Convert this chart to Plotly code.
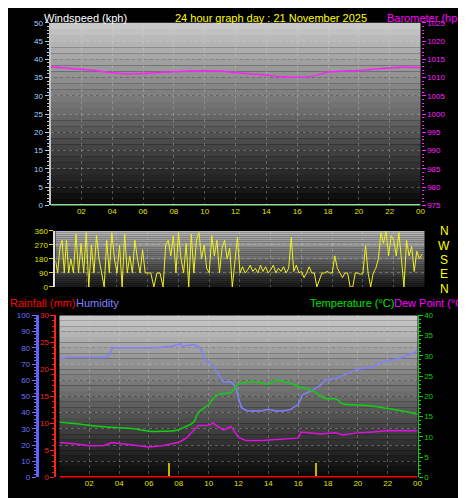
import plotly.graph_objects as go

# ── Data ─────────────────────────────────────────────────────────────────────
HOUR_TICKS = [2, 4, 6, 8, 10, 12, 14, 16, 18, 20, 22, 24]
HOUR_TEXT = ["02", "04", "06", "08", "10", "12", "14", "16", "18", "20", "22", "00"]

wind_hours = [0, 6, 12, 18, 24]
wind_speed = [0, 0, 0, 0, 0]

baro_hours = [0, 1, 2, 3, 4, 5, 6, 7, 8, 9, 10, 11, 12, 13, 14, 15, 16, 17, 18, 19, 20, 21, 22, 23, 24]
baro_hpa = [1012.9, 1012.6, 1012.3, 1011.9, 1011.3, 1011.0, 1011.1, 1011.4, 1011.6, 1011.8,
            1011.9, 1011.8, 1011.3, 1011.0, 1010.7, 1010.2, 1010.1, 1010.4, 1011.5, 1011.8,
            1011.9, 1012.3, 1012.6, 1012.8, 1012.7]

# wind direction samples, grouped per hour
dir_by_hour = [
    [170, 90, 250, 300, 90, 300, 90],
    [180, 90, 340, 90, 280, 90],
    [350, 0, 270, 90, 330, 180],
    [90, 0, 300, 90, 350, 180],
    [90, 270, 0, 340, 90, 200],
    [90, 300, 180, 90, 240, 90],
    [90, 90, 0, 90, 90],
    [0, 270, 300, 200, 330, 90],
    [350, 180, 90, 280, 0, 340],
    [90, 300, 350, 180, 270, 120],
    [90, 330, 200, 300, 90, 250],
    [300, 180, 250, 0, 180, 320],
    [90, 130, 90, 110, 140, 100],
    [120, 90, 140, 100, 130, 90],
    [110, 140, 90, 120, 100, 130],
    [90, 120, 320, 100, 140, 90],
    [100, 60, 90, 130, 90, 90],
    [0, 50, 90, 90, 100, 90],
    [90, 200, 120, 90, 60, 90],
    [90, 0, 0, 90, 90, 80],
    [90, 270, 90, 0, 90, 120],
    [180, 350, 280, 360, 200, 330],
    [300, 200, 350, 180, 0, 300],
    [200, 260, 100, 230, 180, 210],
]

hum_hours = [0, 0.5, 3, 3.3, 3.5, 3.6, 6.5, 7.5, 8, 8.1, 8.2, 9, 9.3, 9.5, 9.7, 10, 10.3, 10.7,
             11, 11.5, 11.8, 12, 12.2, 12.6, 13, 13.5, 14, 14.5, 15, 15.5, 16, 16.3, 17, 17.5,
             17.8, 18.5, 19, 19.5, 20, 21, 21.5, 22, 23, 24]
hum_pct = [73, 74, 74, 75, 79, 80, 80, 81, 82, 83, 81, 82, 81, 79, 73, 71, 69, 63,
           59, 59, 56, 49, 43, 41, 41, 41, 42, 41, 41, 42, 45, 51, 54, 57,
           60, 61, 63, 65, 67, 68, 71, 72, 74, 78]

temp_hours = [0, 1, 3, 5, 6, 7, 7.8, 8.5, 9, 9.3, 10, 10.5, 11, 11.5, 12, 13, 14, 14.5, 15,
              16, 17, 17.8, 18.5, 19, 20, 21, 22, 23, 24]
temp_c = [13.6, 13.3, 12.5, 12.0, 11.4, 11.4, 11.6, 12.6, 13.7, 16.0, 18.0, 20.2, 20.7, 21.0,
          23.0, 23.7, 23.0, 24.0, 23.7, 22.5, 21.3, 19.5, 19.4, 18.2, 17.9, 17.6, 17.0, 16.4, 15.6]

dew_hours = [0, 1, 2, 3, 3.5, 4.5, 6, 7, 8, 8.5, 9.3, 10, 10.3, 11, 11.5, 12, 12.5, 13.5, 15,
             16, 16.2, 17.5, 18.5, 19, 20, 21, 22, 23, 24]
dew_c = [8.6, 8.3, 7.8, 7.9, 8.6, 8.1, 7.5, 7.9, 8.7, 9.7, 12.8, 12.9, 13.4, 11.7, 12.6, 9.9,
         9.1, 9.1, 9.4, 9.7, 11.2, 10.7, 11.0, 10.5, 11.0, 11.2, 11.6, 11.5, 11.5]

rain_hours = [0, 24]
rain_mm = [0, 0]

marker_hours = [7.4, 17.2]
marker_height = [8.5, 8.5]

dir_x, dir_y = [], []
for h, vals in enumerate(dir_by_hour):
    for i, v in enumerate(vals):
        dir_x.append(h + i / len(vals))
        dir_y.append(v)

# ── Layout helpers ───────────────────────────────────────────────────────────
W, H = 466, 498
def px(x):
    return x / W
def py(y):
    return 1 - y / H

FONT = "Liberation Sans"
shapes = []

def gradient(xa, ya, top, bottom, n=30):
    for i in range(n):
        t = i / (n - 1)
        c = [int(top[k] + (bottom[k] - top[k]) * t) for k in range(3)]
        shapes.append(dict(type="rect", xref=f"{xa} domain", yref=f"{ya} domain",
                           x0=0, x1=1, y0=1 - (i + 1) / n, y1=1 - i / n,
                           fillcolor=f"rgb({c[0]},{c[1]},{c[2]})", line_width=0,
                           layer="below"))

gradient("x", "y", (200, 200, 200), (10, 10, 10))
gradient("x2", "y3", (185, 185, 185), (25, 25, 25))
gradient("x3", "y4", (200, 200, 200), (10, 10, 10))

fig = go.Figure()
fig.add_trace(go.Scatter(x=wind_hours, y=wind_speed, mode="lines",
                         line=dict(color="#90e090", width=3), xaxis="x", yaxis="y"))
fig.add_trace(go.Scatter(x=baro_hours, y=baro_hpa, mode="lines", line_shape="spline",
                         line=dict(color="#ff20ff", width=1.5), xaxis="x", yaxis="y2"))
fig.add_trace(go.Scatter(x=dir_x, y=dir_y, mode="lines",
                         line=dict(color="#f0f020", width=1), xaxis="x2", yaxis="y3"))
fig.add_trace(go.Bar(x=marker_hours, y=marker_height, width=0.08,
                     marker=dict(color="#c8b400", line_width=0), xaxis="x3", yaxis="y4"))
fig.add_trace(go.Scatter(x=hum_hours, y=hum_pct, mode="lines",
                         line=dict(color="#7f80ff", width=1.5), xaxis="x3", yaxis="y4"))
fig.add_trace(go.Scatter(x=temp_hours, y=temp_c, mode="lines", line_shape="spline",
                         line=dict(color="#10d010", width=1.5), xaxis="x3", yaxis="y6"))
fig.add_trace(go.Scatter(x=dew_hours, y=dew_c, mode="lines",
                         line=dict(color="#e010e0", width=1.5), xaxis="x3", yaxis="y6"))
fig.add_trace(go.Scatter(x=rain_hours, y=rain_mm, mode="lines",
                         line=dict(color="#ff0000", width=3), xaxis="x3", yaxis="y5"))

grid = dict(showgrid=True, gridcolor="rgba(220,220,220,0.3)", griddash="dot", gridwidth=1,
            zeroline=False)
tf = dict(family=FONT, size=8)

def xax(dom, anchor, labels):
    d = dict(domain=dom, anchor=anchor, range=[0, 24], tickvals=HOUR_TICKS,
             ticktext=HOUR_TEXT if labels else [""] * 12, tickfont=dict(tf, color="#e0e000"),
             ticks="", fixedrange=True, showline=False, **grid)
    return d

def yax(rng, dtick, color, **kw):
    d = dict(range=rng, dtick=dtick, tickfont=dict(tf, color=color), ticks="outside",
             ticklen=4, tickcolor=color,
             minor=dict(ticks="outside", ticklen=2, nticks=5, tickcolor=color, showgrid=False))
    d.update(kw)
    return d

fig.update_layout(
    width=W, height=H, margin=dict(l=0, r=0, t=0, b=0),
    paper_bgcolor="black", plot_bgcolor="rgba(0,0,0,0)", showlegend=False,
    shapes=shapes, bargap=0,
    xaxis=xax([px(43), px(417)], "y", True),
    xaxis2=xax([px(48), px(421)], "y3", False),
    xaxis3=xax([px(52), px(414)], "y4", True),
    yaxis=yax([0, 50], 5, "#a0d0ff", domain=[py(197), py(11)], anchor="x",
              showline=True, linecolor="#c0c0c0", linewidth=2, **grid),
    yaxis2=yax([975, 1025], 5, "#ff20ff", overlaying="y", side="right", anchor="x",
               showgrid=False, zeroline=False),
    yaxis3=yax([0, 360], 90, "#e0e000", domain=[py(280), py(223)], anchor="x2",
               showline=True, linecolor="#e0e0e0", linewidth=2, **grid),
    yaxis4=yax([0, 100], 10, "#7070ff", domain=[py(474), py(309)], anchor="free",
               position=px(29), showline=True, linecolor="#6060ff", linewidth=3, **grid),
    yaxis5=yax([0, 30], 5, "#ff2020", overlaying="y4", anchor="free", position=px(48),
               showline=True, linecolor="#ff2020", linewidth=2, showgrid=False, zeroline=False),
    yaxis6=yax([0, 40], 5, "#10d010", overlaying="y4", side="right", anchor="x3",
               showline=True, linecolor="#10d010", linewidth=1, showgrid=False, zeroline=False),
)

def label(x, y, text, color, anchor="left", size=11):
    fig.add_annotation(x=px(x), y=py(y), xref="paper", yref="paper", text=text,
                       showarrow=False, xanchor=anchor, yanchor="middle",
                       font=dict(family=FONT, size=size, color=color))

label(34, 6, "Windspeed (kph)", "white")
label(266, 6, "24 hour graph day : 21 November 2025", "#ffff00", anchor="center")
label(466, 6, "Barometer (hpa)", "#ff00ff", anchor="right")
label(0, 296, "Rainfall (mm)", "#ff0000")
label(67, 296, "Humidity", "#8080ff")
label(392, 296, "Temperature (°C)", "#00e000", anchor="right")
label(466, 296, "Dew Point (°C)", "#ff00ff", anchor="right")
for y, t in zip([223, 238, 253, 267, 282], ["N", "W", "S", "E", "N"]):
    label(441, y, t, "#ffff00", anchor="center", size=12)

fig.write_html("out.html")
